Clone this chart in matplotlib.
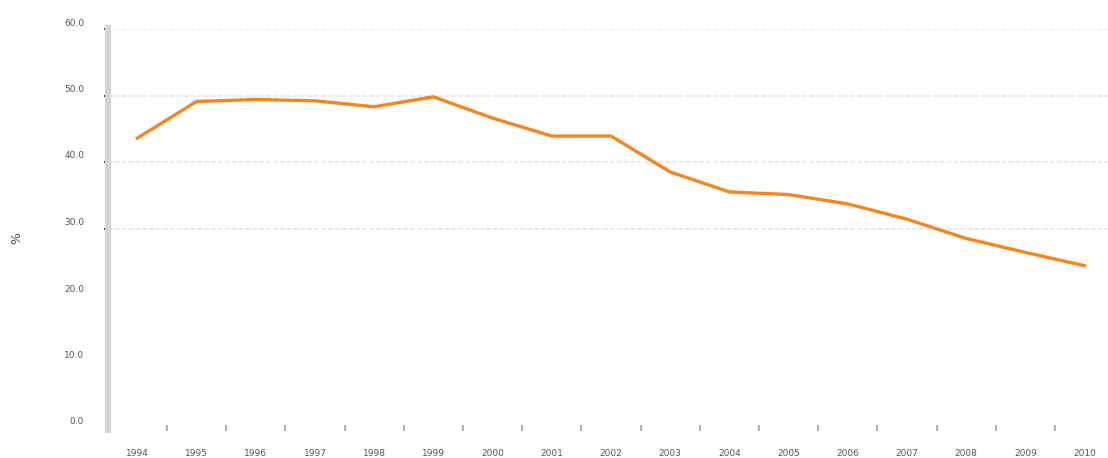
import numpy as np
import matplotlib
matplotlib.use("Agg")
import matplotlib.pyplot as plt
import matplotlib.transforms as mtransforms

# data
years = ["1994", "1995", "1996", "1997", "1998", "1999", "2000", "2001", "2002",
         "2003", "2004", "2005", "2006", "2007", "2008", "2009", "2010"]
share = [43.6, 49.1, 49.4, 49.2, 48.3, 49.8, 46.6, 43.9, 43.9,
         38.5, 35.5, 35.1, 33.7, 31.4, 28.5, 26.4, 24.4]
yticks = [0, 10, 20, 30, 40, 50, 60]

fig = plt.figure(figsize=(11.08, 4.58), dpi=100)
# plot area runs a little past the right edge, as in the reference
ax = fig.add_axes([107.8 / 1108, 30 / 458, 17 * 59.2 / 1108, 399 / 458])

x = np.arange(len(years))
ax.plot(x, share, color="#F5861F", linewidth=2.4, solid_joinstyle="miter")

ax.set_xlim(-0.5, len(years) - 0.5)
ax.set_ylim(0, 60)

# grid
ax.set_yticks(yticks)
ax.set_yticklabels(["%.1f" % v for v in yticks])
ax.yaxis.grid(True, color="#e4e4e4", linewidth=1.1, linestyle=(0, (3, 1.5)))
ax.set_axisbelow(True)
# the lower grid lines and tick marks are not drawn in the original
for v, t in zip(yticks, ax.yaxis.get_major_ticks()):
    if v < 30:
        t.gridline.set_visible(False)
        t.tick1line.set_visible(False)

# category ticks between labels
ax.set_xticks(x)
ax.set_xticklabels(years)
ax.set_xticks(x[:-1] + 0.5, minor=True)
ax.tick_params(axis="x", which="major", length=0, labelsize=6.5,
               labelcolor="#555555", pad=15)
ax.tick_params(axis="x", which="minor", length=5, width=1.5, color="#b0b0b0",
               direction="inout")
ax.tick_params(axis="y", length=3, width=1.5, color="#333333", labelsize=6.5,
               labelcolor="#555555", pad=14)

# shift y labels up a bit
offset = mtransforms.ScaledTranslation(0, 7 / 100, fig.dpi_scale_trans)
for lab in ax.get_yticklabels():
    lab.set_transform(lab.get_transform() + offset)

for s in ["top", "right", "bottom"]:
    ax.spines[s].set_visible(False)
ax.spines["left"].set_color("#d8d4d4")
ax.spines["left"].set_linewidth(4.5)
ax.spines["left"].set_bounds(-0.3, 60.2)

fig.text(17 / 1108, 1 - 238 / 458, "%", rotation=90, ha="center", va="center",
         fontsize=9, color="#444444")

fig.savefig("out.png", dpi=100)
